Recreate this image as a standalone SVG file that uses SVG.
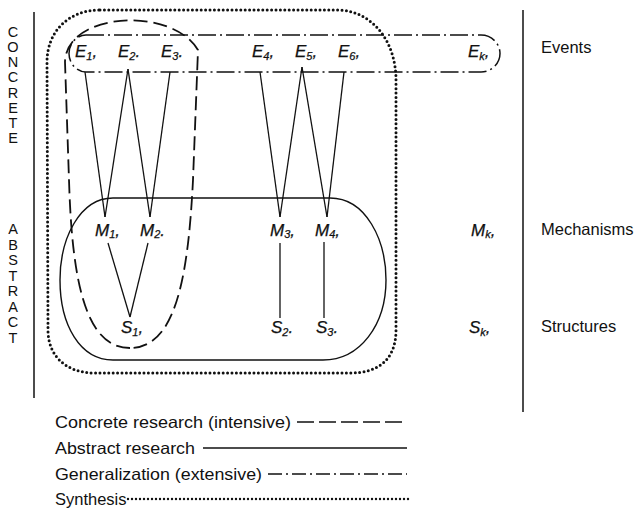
<svg xmlns="http://www.w3.org/2000/svg" width="642" height="516" viewBox="0 0 642 516">
<style>
  .axis { font-family: "Liberation Sans", Arial, sans-serif; font-size: 14.5px; fill: #111; text-anchor: middle; }
  .side { font-family: "Liberation Sans", Arial, sans-serif; font-size: 16.5px; fill: #111; }
  .leg { font-family: "Liberation Sans", Arial, sans-serif; font-size: 16.5px; fill: #111; }
  .var { font-family: "Liberation Sans", Arial, sans-serif; font-size: 17px; font-style: italic; fill: #111; stroke: #111; stroke-width: 0.25; }
  .sub { font-size: 11px; }
  .bar { stroke: #111; stroke-width: 1.5; fill: none; }
  .edge { stroke: #111; stroke-width: 1.3; fill: none; }
  .solid { stroke: #111; stroke-width: 1.4; fill: none; }
  .dashed { stroke: #111; stroke-width: 1.8; fill: none; stroke-dasharray: 14 6; }
  .dashdot { stroke: #111; stroke-width: 1.5; fill: none; stroke-dasharray: 18 4 2 4; }
  .dotted { stroke: #111; stroke-width: 3; fill: none; stroke-dasharray: 0 4.4; stroke-linecap: round; }
</style>

<g id="axes">
  <line class="bar" x1="34" y1="12" x2="34" y2="398"/>
  <line class="bar" x1="523" y1="10" x2="523" y2="412"/>
</g>

<g id="concrete-label">
  <text class="axis" x="13" y="37"><tspan x="13" y="37">C</tspan><tspan x="13" y="52">O</tspan><tspan x="13" y="67">N</tspan><tspan x="13" y="82">C</tspan><tspan x="13" y="97.5">R</tspan><tspan x="13" y="112.5">E</tspan><tspan x="13" y="128">T</tspan><tspan x="13" y="143">E</tspan></text>
</g>
<g id="abstract-label">
  <text class="axis" x="13" y="234"><tspan x="13" y="234">A</tspan><tspan x="13" y="249.5">B</tspan><tspan x="13" y="265">S</tspan><tspan x="13" y="280.5">T</tspan><tspan x="13" y="296">R</tspan><tspan x="13" y="311.5">A</tspan><tspan x="13" y="327">C</tspan><tspan x="13" y="342.5">T</tspan></text>
</g>

<g id="regions">
  <path id="synthesis-region" class="dotted" d="M 100 10 L 340 10 C 372 12 395 40 396 78 L 396 330 C 396 358 380 373 350 373 L 95 373 C 66 373 48 356 48 330 L 47 62 C 47 32 68 10 100 10 Z"/>
  <path id="abstract-region" class="solid" d="M 113 198 L 330 198 C 366 198 386 240 386 280 C 386 325 360 360 323 360 L 113 360 C 80 360 60 325 60 280 C 60 238 80 198 113 198 Z"/>
  <path id="events-region" class="dashdot" d="M 86 35 L 481 35 C 492 35 500 44 500 53.5 C 500 63 492 72 481 72 L 86 72 C 77 72 69 64 69 53.5 C 69 43 77 35 86 35 Z"/>
  <path id="concrete-region" class="dashed" d="M 130 348 C 85 348 72 280 69 180 L 65 62 C 66 12 172 6 198 50 L 193 180 C 188 280 175 348 130 348 Z"/>
</g>

<g id="connectors">
  <line class="edge" x1="85" y1="72" x2="105" y2="217"/>
  <line class="edge" x1="128" y1="69" x2="105" y2="217"/>
  <line class="edge" x1="128" y1="69" x2="150" y2="217"/>
  <line class="edge" x1="170" y1="72" x2="150" y2="217"/>
  <line class="edge" x1="260" y1="72" x2="280" y2="217"/>
  <line class="edge" x1="302" y1="67" x2="280" y2="217"/>
  <line class="edge" x1="302" y1="67" x2="327" y2="217"/>
  <line class="edge" x1="344" y1="72" x2="327" y2="217"/>
  <line class="edge" x1="108" y1="243" x2="130" y2="317"/>
  <line class="edge" x1="148" y1="243" x2="130" y2="317"/>
  <line class="edge" x1="280" y1="243" x2="280" y2="318"/>
  <line class="edge" x1="324" y1="242" x2="324" y2="318"/>
</g>

<g id="E1"><text class="var" x="75" y="57">E<tspan class="sub" dy="3">1</tspan><tspan dy="-3">,</tspan></text></g>
<g id="E2"><text class="var" x="118" y="57">E<tspan class="sub" dy="3">2</tspan><tspan dy="-3">.</tspan></text></g>
<g id="E3"><text class="var" x="161" y="57">E<tspan class="sub" dy="3">3</tspan><tspan dy="-3">.</tspan></text></g>
<g id="E4"><text class="var" x="252" y="57">E<tspan class="sub" dy="3">4</tspan><tspan dy="-3">,</tspan></text></g>
<g id="E5"><text class="var" x="295" y="57">E<tspan class="sub" dy="3">5</tspan><tspan dy="-3">,</tspan></text></g>
<g id="E6"><text class="var" x="338" y="57">E<tspan class="sub" dy="3">6</tspan><tspan dy="-3">,</tspan></text></g>
<g id="Ek"><text class="var" x="468" y="57">E<tspan class="sub" dy="3">k</tspan><tspan dy="-3">,</tspan></text></g>

<g id="M1"><text class="var" x="95" y="236">M<tspan class="sub" dy="2">1</tspan><tspan dy="-2">,</tspan></text></g>
<g id="M2"><text class="var" x="140" y="236">M<tspan class="sub" dy="2">2</tspan><tspan dy="-2">.</tspan></text></g>
<g id="M3"><text class="var" x="270" y="236">M<tspan class="sub" dy="2">3</tspan><tspan dy="-2">,</tspan></text></g>
<g id="M4"><text class="var" x="315" y="236">M<tspan class="sub" dy="2">4</tspan><tspan dy="-2">,</tspan></text></g>
<g id="Mk"><text class="var" x="471" y="236">M<tspan class="sub" dy="2">k</tspan><tspan dy="-2">,</tspan></text></g>

<g id="S1"><text class="var" x="121" y="333">S<tspan class="sub" dy="3">1</tspan><tspan dy="-3">,</tspan></text></g>
<g id="S2"><text class="var" x="271" y="333">S<tspan class="sub" dy="3">2</tspan><tspan dy="-3">.</tspan></text></g>
<g id="S3"><text class="var" x="316" y="333">S<tspan class="sub" dy="3">3</tspan><tspan dy="-3">.</tspan></text></g>
<g id="Sk"><text class="var" x="469" y="333">S<tspan class="sub" dy="3">k</tspan><tspan dy="-3">,</tspan></text></g>

<g id="levels">
  <text class="side" x="541" y="53">Events</text>
  <text class="side" x="541" y="235">Mechanisms</text>
  <text class="side" x="541" y="332">Structures</text>
</g>

<g id="legend">
  <text class="leg" x="55" y="428" textLength="236" lengthAdjust="spacingAndGlyphs">Concrete research (intensive)</text>
  <line class="dashed" x1="297" y1="422" x2="405" y2="422" style="stroke-dasharray:17 5;stroke-width:1.6"/>
  <text class="leg" x="55" y="454" textLength="140" lengthAdjust="spacingAndGlyphs">Abstract research</text>
  <line class="solid" x1="203" y1="448" x2="407" y2="448"/>
  <text class="leg" x="55" y="480" textLength="207" lengthAdjust="spacingAndGlyphs">Generalization (extensive)</text>
  <line class="dashdot" x1="268" y1="474" x2="407" y2="474" style="stroke-dasharray:14 4 2 4"/>
  <text class="leg" x="55" y="505">Synthesis</text>
  <line class="dotted" x1="128" y1="499" x2="410" y2="499" style="stroke-width:2.4;stroke-dasharray:0 4"/>
</g>
</svg>
